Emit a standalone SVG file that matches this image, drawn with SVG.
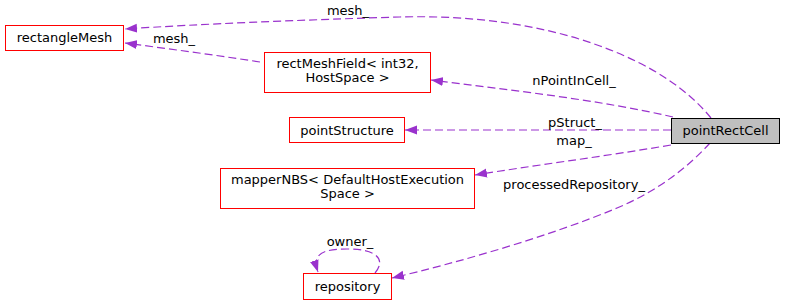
<svg xmlns="http://www.w3.org/2000/svg" width="785" height="305" viewBox="0 0 785 305">
  <style>
    .node rect { fill: #ffffff; stroke: #ff0000; stroke-width: 1; }
    .node.main rect { fill: #bfbfbf; stroke: #000000; }
    text { font-family: "DejaVu Sans", "Noto Sans", sans-serif; font-size: 13px; fill: #000000; text-anchor: middle; }
    .edge path { fill: none; stroke: #9a32cd; stroke-width: 1.2; stroke-dasharray: 8,4; marker-end: url(#arrow); }
  </style>
  <defs>
    <marker id="arrow" viewBox="0 0 12 10" refX="12" refY="5" markerWidth="12" markerHeight="10" markerUnits="userSpaceOnUse" orient="auto">
      <path d="M0,0.5 L12,5 L0,9.5 Z" fill="#9a32cd"/>
    </marker>
  </defs>
  <rect width="785" height="305" fill="#ffffff"/>

  <g id="edges" class="edge">
    <path id="e-mesh" d="M711,118 C690,92 655,66 600,46 C540,24 470,15 400,17 C300,20 200,24 125,29"/>
    <path id="e-field-mesh" d="M260,62 C215,55 170,49 125,43"/>
    <path id="e-npoint" d="M673,117 C600,100 510,90 431,80"/>
    <path id="e-pstruct" d="M671,130 L405,130"/>
    <path id="e-map" d="M671,145 C600,157 530,166 475,175"/>
    <path id="e-repo" d="M710,143 C690,165 660,190 617,208 C550,236 460,262 392,278"/>
    <path id="e-owner" d="M375,273 C386,260 378,249 347,249 C322,249 312,254 318,272"/>
  </g>

  <g id="labels">
    <text x="348" y="15">mesh_</text>
    <text x="174" y="43">mesh_</text>
    <text x="574" y="85">nPointInCell_</text>
    <text x="575" y="127">pStruct_</text>
    <text x="574" y="145">map_</text>
    <text x="574" y="189">processedRepository_</text>
    <text x="350" y="246">owner_</text>
  </g>

  <g id="pointRectCell" class="node main">
    <rect x="671.5" y="118.5" width="108" height="25"/>
    <text x="725.5" y="135">pointRectCell</text>
  </g>
  <g id="rectangleMesh" class="node">
    <rect x="5.5" y="25.5" width="118" height="25"/>
    <text x="64.5" y="42">rectangleMesh</text>
  </g>
  <g id="rectMeshField" class="node">
    <rect x="264.5" y="52.5" width="166" height="40"/>
    <text x="347.5" y="68">rectMeshField&lt; int32,</text>
    <text x="347.5" y="82">HostSpace &gt;</text>
  </g>
  <g id="pointStructure" class="node">
    <rect x="289.5" y="117.5" width="115" height="25"/>
    <text x="347" y="134.5">pointStructure</text>
  </g>
  <g id="mapperNBS" class="node">
    <rect x="220.5" y="168.5" width="254" height="40"/>
    <text x="347.5" y="184">mapperNBS&lt; DefaultHostExecution</text>
    <text x="347.5" y="198">Space &gt;</text>
  </g>
  <g id="repository" class="node">
    <rect x="303.5" y="273.5" width="88" height="26" style="stroke:#ff0000;fill:#ffffff"/>
    <text x="347.5" y="291">repository</text>
  </g>
</svg>
